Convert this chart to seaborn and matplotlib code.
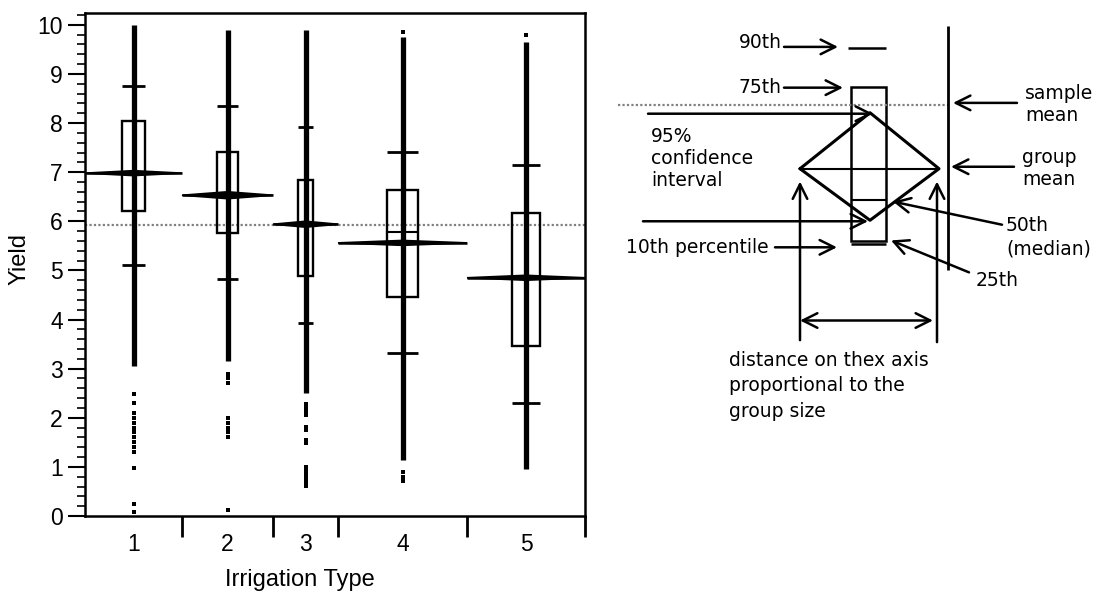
import numpy as np
import pandas as pd
import seaborn as sns
import matplotlib.pyplot as plt
from matplotlib.patches import Rectangle, Polygon
from matplotlib.ticker import MultipleLocator

# --- data ---
irrigation = [1, 2, 3, 4, 5]
group_size = [97, 91, 65, 129, 118]   # relative group sizes (x widths)
group_mean = [6.98, 6.53, 5.94, 5.56, 4.85]
ci_half = [0.05, 0.07, 0.06, 0.05, 0.05]
p10 = [5.11, 4.82, 3.92, 3.31, 2.31]
p25 = [6.21, 5.77, 4.88, 4.45, 3.46]
p50 = [7.00, 6.55, 5.95, 5.78, 4.85]
p75 = [8.04, 7.42, 6.85, 6.64, 6.17]
p90 = [8.75, 8.35, 7.92, 7.41, 7.15]
sample_mean = 5.93

# dense runs of points and the scattered ones outside them
dense_lo = [3.05, 3.15, 2.50, 1.15, 0.95]
dense_hi = [10.0, 9.90, 9.90, 9.75, 9.65]
sparse_1 = [2.48, 2.30, 2.10, 2.00, 1.90, 1.80, 1.70, 1.60, 1.50, 1.40, 1.30, 0.97, 0.24, 0.08]
sparse_2 = [2.90, 2.80, 2.70, 2.00, 1.90, 1.80, 1.70, 1.60, 0.12]
sparse_3 = [2.28, 2.20, 2.12, 2.05, 1.82, 1.75, 1.55, 1.48, 1.00, 0.92, 0.85, 0.78, 0.70, 0.62]
sparse_4 = [9.86, 0.90, 0.80, 0.72]
sparse_5 = [9.80]

# key diagram (schematic values on the same yield scale)
key_p10, key_p25, key_p50, key_p75, key_p90 = 5.53, 5.59, 6.44, 8.74, 9.53
key_mean, key_ci_lo, key_ci_hi = 7.07, 6.02, 8.21
key_sample_mean = 8.37

sns.set_style("ticks")
plt.rcParams['font.family'] = ['Liberation Sans', 'DejaVu Sans']
for k in ["text.color", "axes.labelcolor", "xtick.color", "ytick.color"]:
    plt.rcParams[k] = "black"

fig = plt.figure(figsize=(11.06, 5.92), dpi=100)
ax = fig.add_axes([85 / 1106, 1 - 516 / 592, 500 / 1106, 503 / 592])

size = np.array(group_size, dtype=float)
edges = np.concatenate([[0], np.cumsum(size)])
centers = edges[:-1] + size / 2
box_w = size * 0.24

rows = []
for c, pts in zip(centers, [sparse_1, sparse_2, sparse_3, sparse_4, sparse_5]):
    for v in pts:
        rows.append({"pos": c, "Yield": v})
df = pd.DataFrame(rows)

ax.axhline(sample_mean, color="#808080", lw=1.6, ls=(0, (1, 1)), zorder=1)
ax.vlines(centers, dense_lo, dense_hi, color="black", lw=3.8, zorder=3)
sns.stripplot(data=df, x="pos", y="Yield", native_scale=True, jitter=False,
              marker="s", size=3.4, color="black", orient="x", ax=ax, zorder=3)

for i, c in enumerate(centers):
    w = box_w[i]
    ax.add_patch(Rectangle((c - w / 2, p25[i]), w, p75[i] - p25[i], fill=False,
                           ec="black", lw=1.7, zorder=4))
    ax.hlines([p10[i], p90[i]], c - w / 2, c + w / 2, color="black", lw=2, zorder=4)
    ax.hlines(p50[i], c - w / 2, c + w / 2, color="black", lw=1.5, zorder=4)
    l, r = edges[i], edges[i + 1]
    m, h = group_mean[i], ci_half[i]
    ax.add_patch(Polygon([(l, m), (c, m + h), (r, m), (c, m - h)], closed=True,
                         fc="black", ec="black", lw=1.2, zorder=5))
    ax.hlines(m, l, r, color="black", lw=1.8, zorder=5)

ax.set_xlim(0, edges[-1])
ax.set_ylim(0, 10.24)
ax.set_xticks(edges[1:])
ax.set_xticklabels([""] * len(edges[1:]))
ax.set_xticks(centers, minor=True)
ax.set_xticklabels([str(v) for v in irrigation], minor=True)
ax.set_yticks(range(11))
ax.yaxis.set_minor_locator(MultipleLocator(0.2))
ax.tick_params(axis="x", which="major", length=15, width=2, direction="out")
ax.tick_params(axis="x", which="minor", length=0, pad=12, labelsize=16.5)
ax.tick_params(axis="y", which="major", length=12, width=1.5, labelsize=16.5, pad=4)
ax.tick_params(axis="y", which="minor", length=6, width=1.2)
for s in ax.spines.values():
    s.set_visible(True)
    s.set_linewidth(1.8)
    s.set_color("black")
ax.set_xlabel("Irrigation Type", fontsize=17)
ax.set_ylabel("Yield", fontsize=17)
ax.xaxis.set_label_coords(0.43, -0.105)
ax.yaxis.set_label_coords(-0.11, 0.51)

# --- key diagram on the right ---
kx = fig.add_axes([600 / 1106, 1 - 516 / 592, 506 / 1106, 503 / 592])
kx.set_xlim(0, 506)
kx.set_ylim(0, 10.24)
kx.axis("off")
k_left, k_right, k_mid = 200, 339, 270
k_box = (251, 286)
k_side = 348
arrow = dict(arrowstyle="->, head_length=0.7, head_width=0.35", lw=1.8,
             color="black", shrinkA=0, shrinkB=0, mutation_scale=15)
key_font = dict(fontsize=13.5, family=["DejaVu Sans"])

kx.add_patch(Rectangle((k_box[0], key_p25), k_box[1] - k_box[0], key_p75 - key_p25,
                       fill=False, ec="black", lw=1.8))
kx.hlines(key_p90, 248, k_box[1], color="black", lw=1.8)
kx.hlines(key_p10, k_box[0], k_box[1], color="black", lw=1.8)
kx.hlines(key_p50, k_box[0], k_box[1], color="black", lw=1.5)
kx.plot([k_left, k_mid, k_right, k_mid, k_left], [key_mean, key_ci_hi, key_mean, key_ci_lo, key_mean],
        color="black", lw=2.2)
kx.hlines(key_mean, k_left, k_right, color="black", lw=1.5)
kx.hlines(key_sample_mean, 18, k_side, color="#808080", lw=1.6, ls=(0, (1, 1)))
kx.vlines(k_side, 5.0, 9.98, color="black", lw=2)

kx.text(139, 9.63, "90th", va="center", **key_font)
kx.annotate("", xy=(238, 9.55), xytext=(184, 9.55), arrowprops=arrow)
kx.text(139, 8.72, "75th", va="center", **key_font)
kx.annotate("", xy=(243, 8.72), xytext=(184, 8.72), arrowprops=arrow)
kx.annotate("", xy=(273, 8.19), xytext=(48, 8.19), arrowprops=arrow)
kx.annotate("", xy=(268, 6.00), xytext=(43, 6.00), arrowprops=arrow)
kx.text(51, 7.28, "95%\nconfidence\ninterval", va="center", linespacing=1.22, **key_font)
kx.text(425, 8.38, "sample\nmean", va="center", linespacing=1.2, **key_font)
kx.annotate("", xy=(353, 8.41), xytext=(417, 8.41), arrowprops=arrow)
kx.text(422, 7.08, "group\nmean", va="center", linespacing=1.2, **key_font)
kx.annotate("", xy=(351, 7.11), xytext=(414, 7.11), arrowprops=arrow)
kx.text(406, 5.68, "50th\n(median)", va="center", linespacing=1.3, **key_font)
kx.annotate("", xy=(293, 6.40), xytext=(402, 5.93), arrowprops=arrow)
kx.text(376, 4.80, "25th", va="center", **key_font)
kx.annotate("", xy=(291, 5.61), xytext=(369, 4.96), arrowprops=arrow)
kx.text(26, 5.47, "10th percentile", va="center", **key_font)
kx.annotate("", xy=(237, 5.47), xytext=(175, 5.47), arrowprops=arrow)
kx.annotate("", xy=(k_left, 6.81), xytext=(k_left, 3.58), arrowprops=arrow)
kx.annotate("", xy=(337, 6.81), xytext=(337, 3.54), arrowprops=arrow)
kx.annotate("", xy=(333, 3.98), xytext=(k_left, 3.98),
            arrowprops=dict(arrow, arrowstyle="<->, head_length=0.7, head_width=0.35"))
kx.text(129, 2.65, "distance on thex axis\nproportional to the\ngroup size",
        va="center", linespacing=1.45, **key_font)

fig.savefig("out.png", dpi=100)
